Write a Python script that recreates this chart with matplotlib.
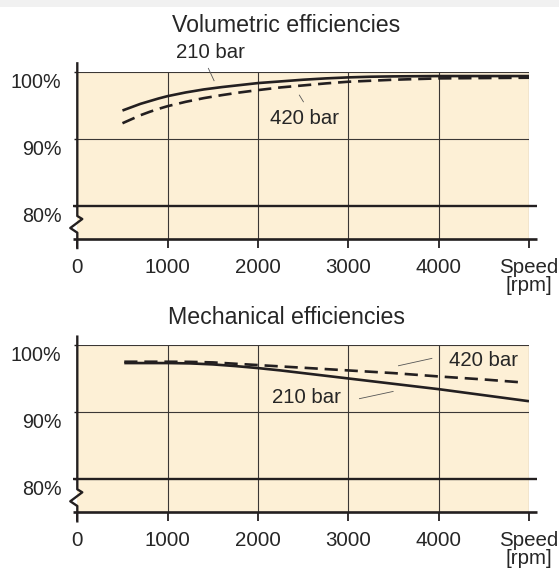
import matplotlib
matplotlib.use("Agg")
import matplotlib.pyplot as plt
import matplotlib.transforms as mtransforms
from matplotlib.patches import Rectangle

plt.rcParams['font.family'] = ['Liberation Sans', 'DejaVu Sans']

# ---- data ----
vol_speed = [500, 600, 700, 800, 900, 1000, 1200, 1400, 1600, 1800, 2000,
             2250, 2500, 2750, 3000, 3250, 3500, 4000, 4500, 5000]
vol_210 = [94.2, 94.7, 95.2, 95.6, 96.0, 96.35, 96.9, 97.35, 97.7, 98.0, 98.3,
           98.55, 98.8, 99.0, 99.15, 99.25, 99.3, 99.35, 99.35, 99.35]
vol_420 = [92.3, 92.9, 93.5, 94.0, 94.45, 94.85, 95.5, 96.05, 96.5, 96.9, 97.25,
           97.65, 97.95, 98.25, 98.5, 98.65, 98.8, 99.0, 99.05, 99.1]

mech_speed_210 = [520, 1000, 1250, 1500, 1750, 2000, 2250, 2500, 2750, 3000,
                  3500, 4000, 4500, 5000]
mech_210 = [97.3, 97.3, 97.25, 97.1, 96.85, 96.55, 96.2, 95.8, 95.4, 95.0,
            94.2, 93.4, 92.5, 91.6]
mech_speed_420 = [520, 1000, 1250, 1500, 1750, 2000, 2500, 3000, 3500, 4000,
                  4500, 4930]
mech_420 = [97.5, 97.5, 97.48, 97.4, 97.2, 97.0, 96.6, 96.2, 95.8, 95.3,
            94.85, 94.4]

x_ticks = [0, 1000, 2000, 3000, 4000, 5000]
x_labels = ['0', '1000', '2000', '3000', '4000', 'Speed\n[rpm]']
y_ticks = [80, 90, 100]
y_labels = ['80%', '90%', '100%']
titles = ['Volumetric efficiencies', 'Mechanical efficiencies']

# label positions (data coords): text, text pos, leader start, leader end
vol_labels = [('210 bar', (1470, 102.8), (1451, 100.5), (1514, 98.65)),
              ('420 bar', (2511, 93.0), (2458, 96.5), (2503, 95.5))]
mech_labels = [('420 bar', (4494, 97.7), (3555, 96.9), (3925, 98.0)),
               ('210 bar', (2533, 92.1), (3123, 91.98), (3496, 93.06))]

BEIGE = '#FDF0D6'
INK = '#231f20'
GRID = '#3b3735'
TXT = '#262626'

W, H = 559, 570
fig = plt.figure(figsize=(W / 100, H / 100), dpi=100)
fig.patch.set_facecolor('white')
fig.patches.append(Rectangle((0, 1 - 7 / H), 1, 7 / H, transform=fig.transFigure,
                             facecolor='#f1f1f1', edgecolor='none', zorder=0))

left = 77.3 / W
width = (529 - 77.3) / W
height = (239 - 71.7) / H
ax1 = fig.add_axes([left, 1 - 239 / H, width, height])
ax2 = fig.add_axes([left, 1 - 512.3 / H, width, height])


def style(ax, title, title_y):
    ax.set_facecolor(BEIGE)
    ax.set_xlim(0, 5000)
    ax.set_ylim(75, 100)
    for s in ax.spines.values():
        s.set_visible(False)
    ax.set_xticks(x_ticks)
    ax.set_xticklabels(x_labels)
    ax.set_yticks(y_ticks)
    ax.set_yticklabels(y_labels)
    ax.tick_params(axis='x', direction='out', length=6.5, width=1.3, color=INK,
                   pad=7, labelsize=14.8, labelcolor=TXT)
    ax.tick_params(axis='y', direction='out', length=2.3, width=1.0, color=INK,
                   pad=9, labelsize=14.2, labelcolor=TXT)
    for lab in ax.get_xticklabels():
        lab.set_linespacing(0.92)
    off = mtransforms.ScaledTranslation(0, -9 / 100, fig.dpi_scale_trans)
    for lab in ax.get_yticklabels():
        lab.set_transform(lab.get_transform() + off)
    # thin grid
    for xv in x_ticks[1:]:
        ax.axvline(xv, color=GRID, lw=0.8, zorder=1)
    for yv in [90, 100]:
        ax.axhline(yv, color=GRID, lw=0.8, zorder=1)
    # thick lines
    xt = ax.get_yaxis_transform()
    ax.plot([-0.010, 1.018], [80, 80], transform=xt, color=INK, lw=1.7,
            clip_on=False, zorder=3, solid_capstyle='butt')
    ax.plot([-0.010, 1.018], [75, 75], transform=xt, color=INK, lw=1.9,
            clip_on=False, zorder=3, solid_capstyle='butt')
    # y axis with break
    ax.plot([0, 0, 0.011, -0.0155, 0, 0],
            [1.05, 0.1375, 0.1195, 0.0657, 0.0377, -0.054],
            transform=ax.transAxes, color=INK, lw=1.7, clip_on=False, zorder=4)
    fig.text(286.5 / W, 1 - title_y / H, title, ha='center', va='baseline',
             fontsize=16.7, color=TXT)


style(ax1, titles[0], 32.3)
style(ax2, titles[1], 323.5)

ax1.plot(vol_speed, vol_210, color=INK, lw=1.9, zorder=5, solid_capstyle='butt')
ax1.plot(vol_speed, vol_420, color=INK, lw=1.9, ls=(0, (5, 2.6)), zorder=5)
ax2.plot(mech_speed_210, mech_210, color=INK, lw=1.9, zorder=5, solid_capstyle='butt')
ax2.plot(mech_speed_420, mech_420, color=INK, lw=1.9, ls=(0, (5, 2.6)), zorder=5)

for ax, labs in [(ax1, vol_labels), (ax2, mech_labels)]:
    for txt, pos, p0, p1 in labs:
        ax.text(pos[0], pos[1], txt, ha='center', va='center', fontsize=14.7,
                color=TXT, clip_on=False, zorder=6)
        ax.plot([p0[0], p1[0]], [p0[1], p1[1]], color='#555555', lw=0.6,
                clip_on=False, zorder=6)

fig.savefig('out.png', dpi=100)
